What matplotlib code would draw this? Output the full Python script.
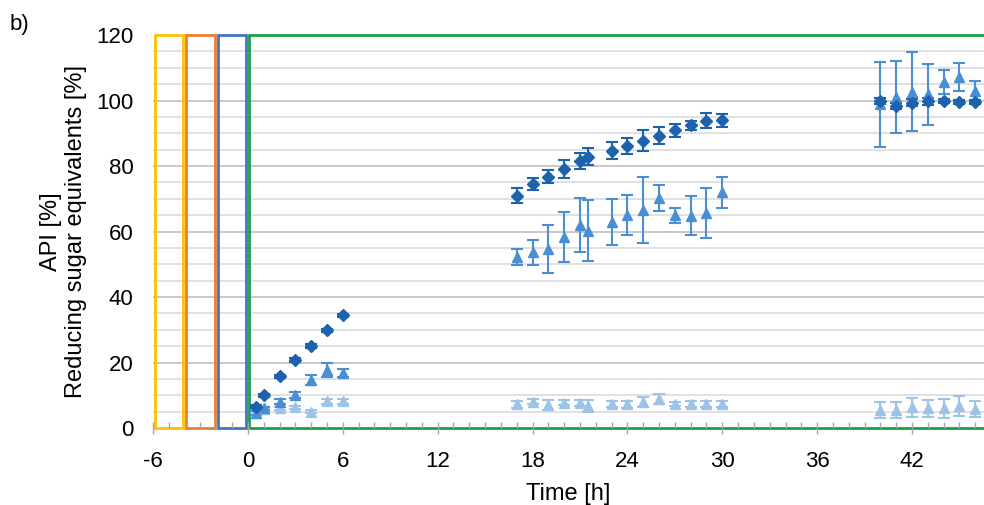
import matplotlib.pyplot as plt
import matplotlib.patches as patches
import numpy as np

plt.rcParams['font.family'] = ['Liberation Sans', 'DejaVu Sans']
plt.rcParams['axes.unicode_minus'] = False

# time points [h]
t = [0.5, 1, 2, 3, 4, 5, 6,
     17, 18, 19, 20, 21, 21.5, 23, 24, 25, 26, 27, 28, 29, 30,
     40, 41, 42, 43, 44, 45, 46]

# API [%] (dark diamonds)
api = [6.5, 10.0, 15.8, 20.8, 25.0, 29.8, 34.4,
       71.0, 74.5, 76.7, 79.0, 81.6, 82.9, 84.7, 86.2, 87.8, 89.3, 90.9, 92.4, 93.8, 94.0,
       99.9, 98.3, 99.4, 99.8, 99.9, 99.6, 99.6]
api_err = [0.5, 0.5, 0.5, 0.5, 0.5, 0.5, 0.5,
           2.4, 1.8, 2.0, 2.7, 2.5, 2.5, 2.5, 2.5, 3.2, 2.5, 2.0, 1.5, 2.3, 2.0,
           1.0, 1.0, 1.0, 1.0, 0.5, 0.5, 0.5]

# reducing sugar equivalents, series 1 (medium triangles)
rse1 = [4.6, 6.0, 8.0, 10.1, 14.7, 17.7, 16.7,
        52.3, 53.7, 54.6, 58.4, 62.0, 60.2, 62.8, 65.0, 66.6, 70.3, 65.0, 64.8, 65.7, 72.0,
        98.9, 101.2, 102.7, 101.9, 105.7, 107.3, 102.9]
rse1_err = [0.5, 0.5, 0.8, 0.8, 1.5, 2.0, 1.2,
            2.5, 3.8, 7.3, 7.7, 8.3, 9.3, 7.0, 6.1, 10.0, 4.0, 2.3, 6.0, 7.7, 4.8,
            13.0, 11.0, 12.0, 9.4, 3.6, 4.3, 3.2]

# reducing sugar equivalents, series 2 (light triangles)
rse2 = [4.5, 5.7, 6.0, 6.3, 5.0, 8.2, 8.2,
        7.2, 8.0, 7.0, 7.7, 7.7, 6.7, 7.3, 7.2, 8.0, 8.8, 7.3, 7.3, 7.3, 7.3,
        5.5, 5.5, 6.3, 6.0, 6.0, 6.7, 5.8]
rse2_err = [0.5, 0.5, 0.5, 0.5, 0.5, 0.8, 0.8,
            1.0, 0.8, 1.5, 0.8, 1.0, 1.8, 1.0, 1.0, 1.6, 1.5, 0.5, 1.0, 1.0, 1.0,
            2.5, 2.5, 3.0, 2.7, 2.8, 3.0, 2.5]

# phase boxes: start, end, colour
phases = [(-6, -4, '#FFC000'), (-4, -2, '#ED7D31'), (-2, 0, '#4472C4'), (0, 60, '#18A04A')]

fig = plt.figure(figsize=(9.84, 5.05), dpi=100)
ax = fig.add_axes([0.1555, 0.1525, 0.8445, 0.778])

ax.set_xlim(-6, 46.55)
ax.set_ylim(0, 120)

# grid
for y in np.arange(5, 120, 5):
    c = '#bfbfbf' if y % 20 == 0 else '#dcdcdc'
    ax.axhline(y, color=c, lw=1.2, zorder=0)

gap = 0.1
for x0, x1, col in phases:
    ax.add_patch(patches.Rectangle((x0 + gap, 0), x1 - x0 - 2 * gap, 120,
                                   fill=False, edgecolor=col, lw=2, zorder=1,
                                   clip_on=False))

eb = dict(capsize=4, elinewidth=1.5, capthick=1.5, linestyle='none', zorder=3)
ax.errorbar(t, rse2, yerr=rse2_err, marker='^', ms=7.5, color='#9DC3E6', **eb)
ax.errorbar(t, rse1, yerr=rse1_err, marker='^', ms=7.5, color='#4A8FD5', **eb)
ax.errorbar(t, api, yerr=api_err, marker='D', ms=6, color='#1C62AD', **eb)

for s in ax.spines.values():
    s.set_visible(False)

ax.set_xticks(np.arange(-6, 46, 6))
ax.set_xticks(np.arange(-6, 47, 1), minor=True)
ax.tick_params(axis='x', which='major', direction='inout', length=9, width=1,
               color='#a6a6a6', labelsize=16, pad=12)
ax.tick_params(axis='x', which='minor', direction='in', length=4, width=1,
               color='#a6a6a6')
ax.set_yticks(np.arange(0, 121, 20))
ax.tick_params(axis='y', length=0, labelsize=16, pad=14)

ax.set_xlabel('Time [h]', fontsize=17, labelpad=8)
ax.set_ylabel('API [%]\nReducing sugar equivalents [%]', fontsize=17, labelpad=7,
              linespacing=1.15)

fig.text(0.01, 0.94, 'b)', fontsize=16)

fig.savefig('out.png', dpi=100)
